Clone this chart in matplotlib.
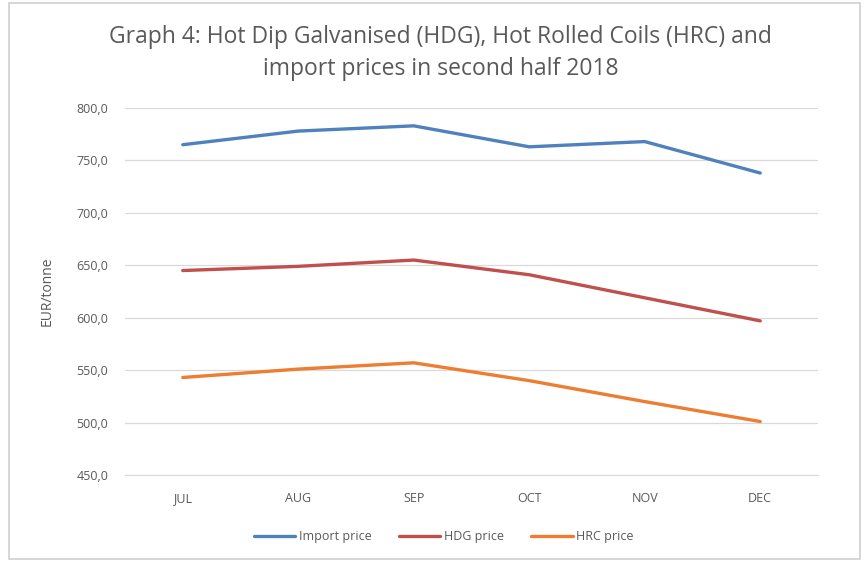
import matplotlib
matplotlib.use("Agg")
import matplotlib.pyplot as plt
from matplotlib.patches import Rectangle

months = ["JUL", "AUG", "SEP", "OCT", "NOV", "DEC"]
import_price = [765, 778, 783, 763, 768, 738]
hdg_price = [645, 649, 655, 641, 619, 597]
hrc_price = [543, 551, 557, 540, 520, 501]
yticks = [450, 500, 550, 600, 650, 700, 750, 800]

plt.rcParams['font.family'] = ['Open Sans', 'DejaVu Sans']

fig = plt.figure(figsize=(8.64, 5.62), dpi=100)
fig.patches.append(Rectangle((0.01, 0.005), 0.985, 0.99, transform=fig.transFigure,
                             fill=False, edgecolor='#d0d0d0', linewidth=1.2))
ax = fig.add_axes([0.1447, 0.1548, 0.802, 0.653])
x = list(range(len(months)))
ax.plot(x, import_price, color='#4F81BD', lw=2.4, label='Import price', solid_capstyle='round')
ax.plot(x, hdg_price, color='#C0504D', lw=2.4, label='HDG price', solid_capstyle='round')
ax.plot(x, hrc_price, color='#ED7D31', lw=2.4, label='HRC price', solid_capstyle='round')

ax.set_xlim(-0.5, 5.5)
ax.set_ylim(450, 800)
ax.set_yticks(yticks)
ax.set_yticklabels([f"{v},0" for v in yticks])
ax.set_xticks(x)
ax.set_xticklabels(months)
ax.grid(axis='y', color='#d9d9d9', lw=0.9)
ax.set_axisbelow(True)
for s in ['top', 'right', 'left']:
    ax.spines[s].set_visible(False)
ax.spines['bottom'].set_color('#d9d9d9')
ax.tick_params(axis='both', length=0, labelsize=9, colors='#595959', pad=12)
ax.tick_params(axis='x', pad=12)
ax.set_ylabel('EUR/tonne', fontsize=10, color='#595959', labelpad=16)

fig.text(0.51, 0.906, "Graph 4: Hot Dip Galvanised (HDG), Hot Rolled Coils (HRC) and\nimport prices in second half 2018",
         ha='center', va='center', fontsize=16.5, color='#595959', linespacing=1.45)

leg = ax.legend(loc='upper center', bbox_to_anchor=(0.46, -0.12), ncol=3, frameon=False,
                fontsize=9, handlelength=3.3, columnspacing=2.2, handletextpad=0.3)
for t in leg.get_texts():
    t.set_color('#595959')

fig.savefig('out.png', dpi=100)
